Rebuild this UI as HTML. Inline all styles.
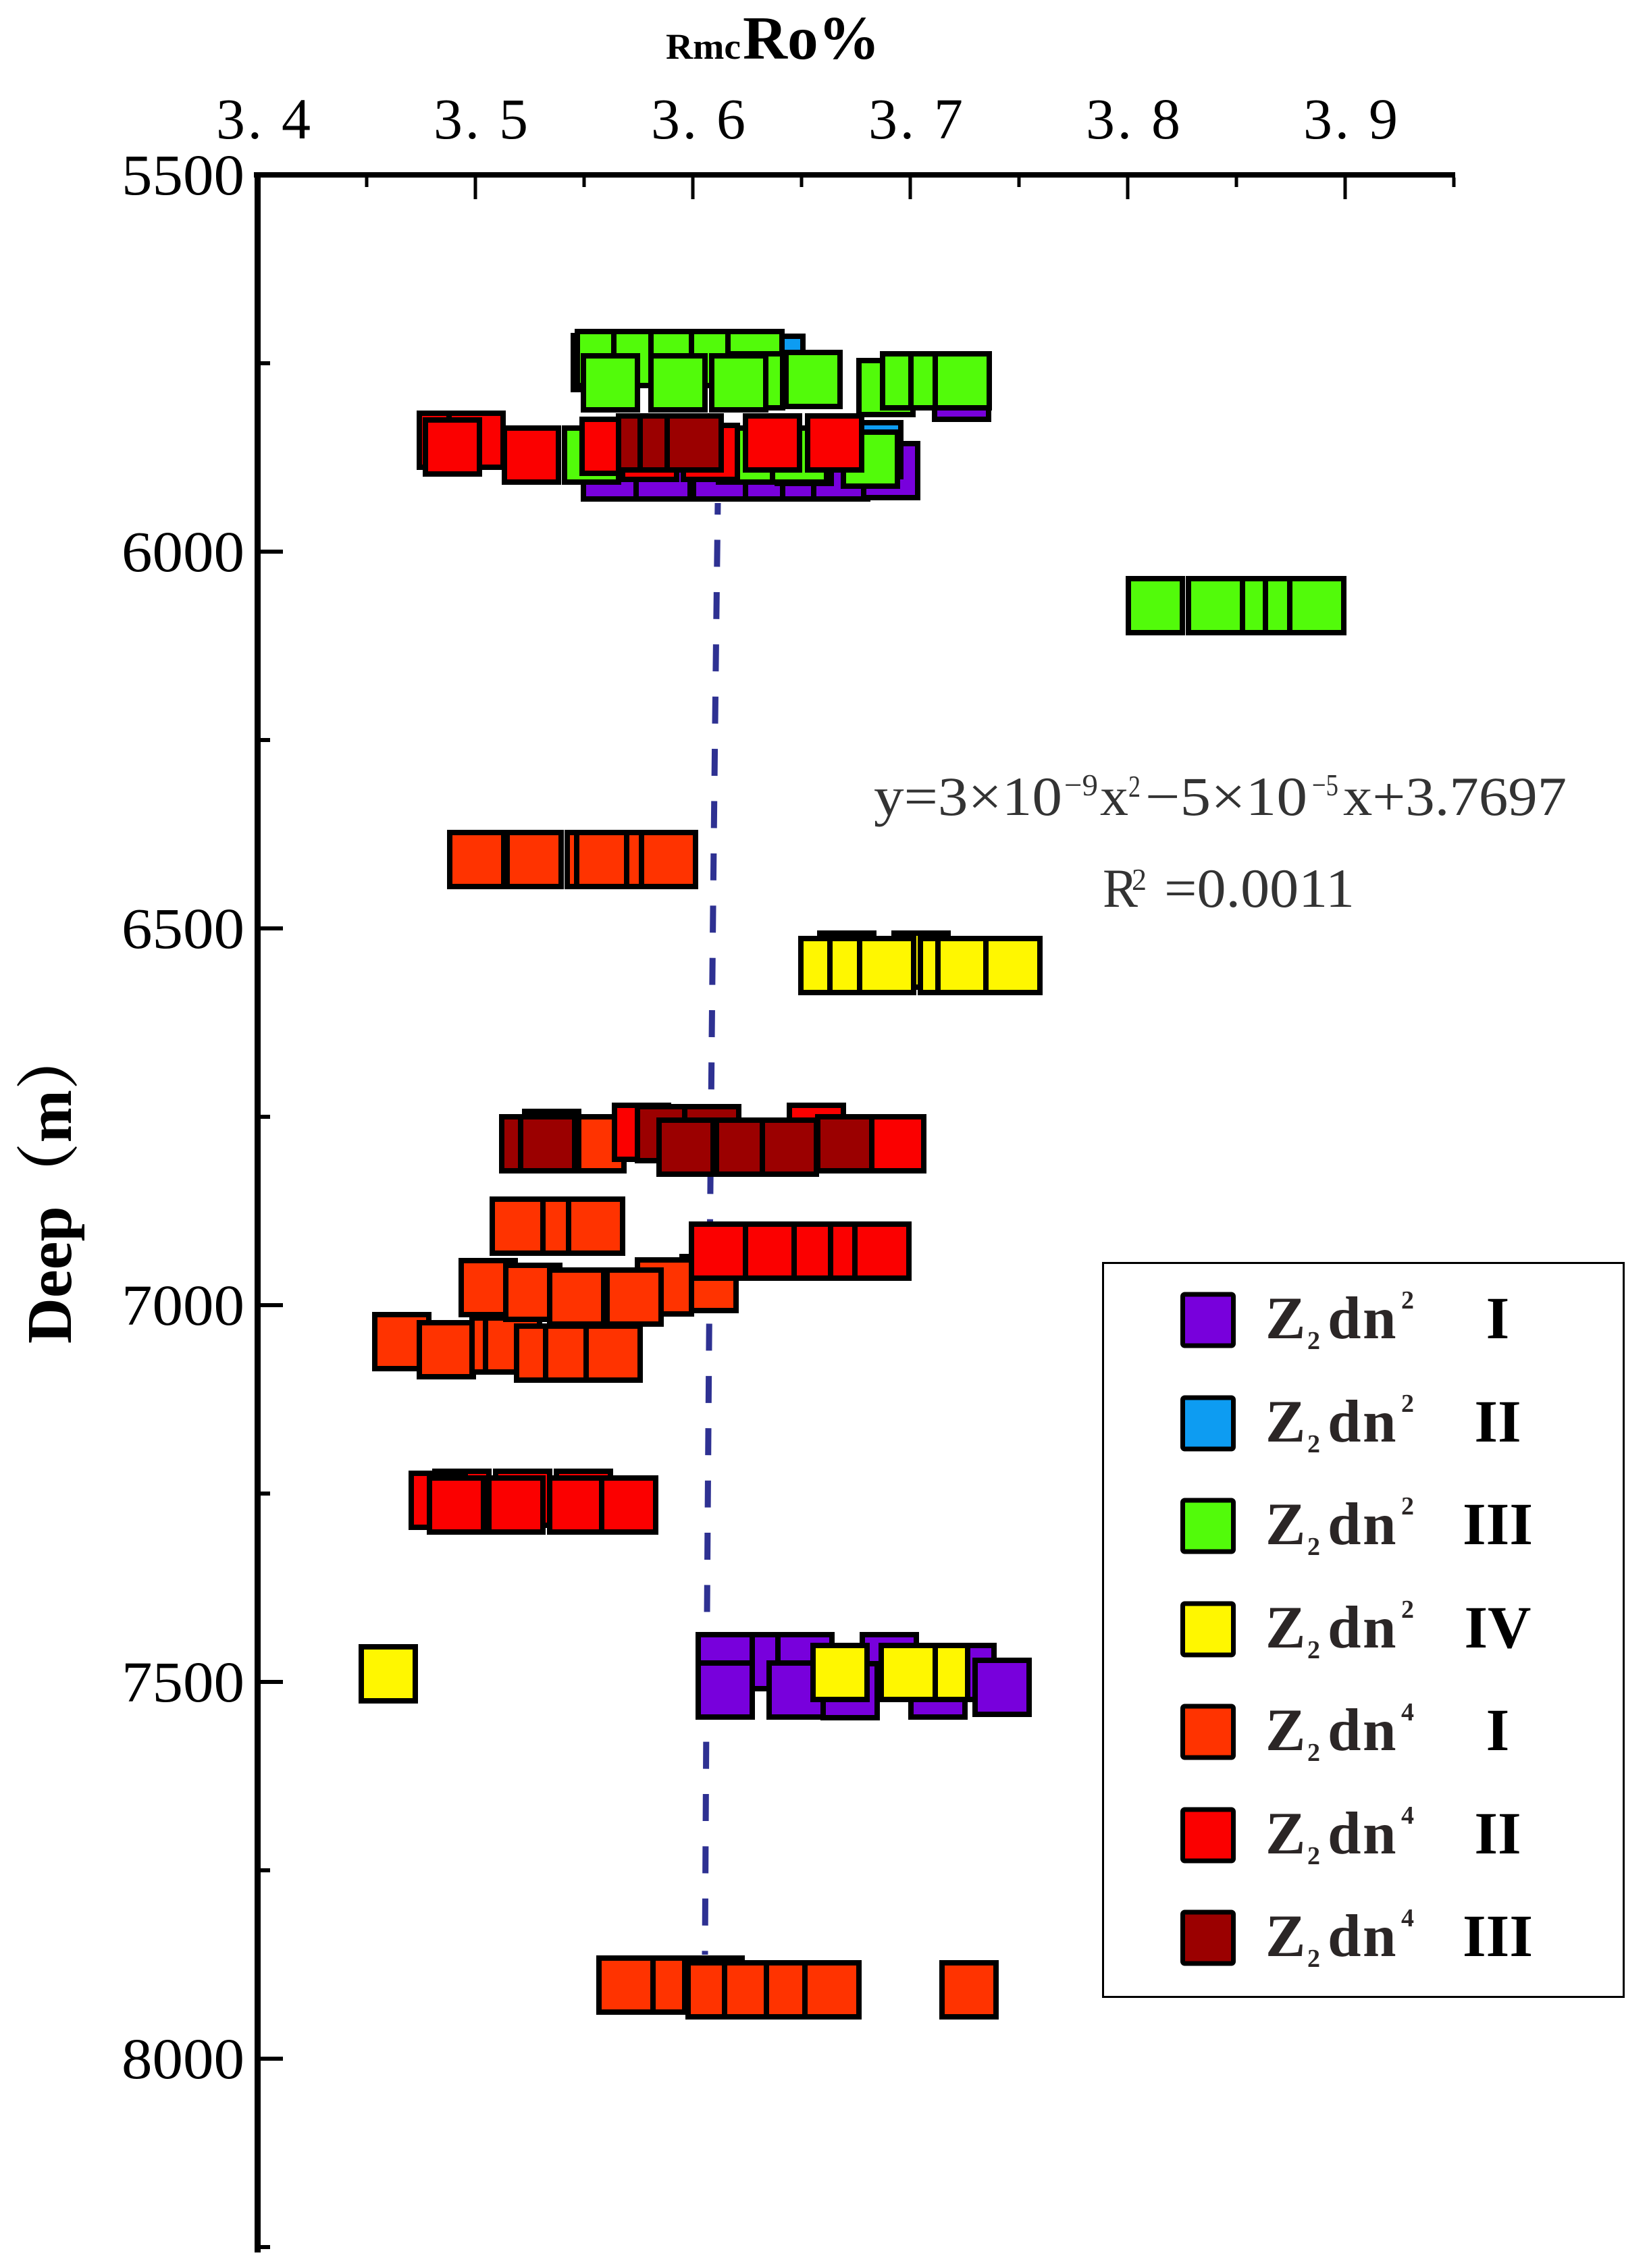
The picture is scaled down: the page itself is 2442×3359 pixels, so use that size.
<!DOCTYPE html>
<html>
<head>
<meta charset="utf-8">
<style>
html,body{margin:0;padding:0;background:#fff;}
svg{display:block;}
.m rect{stroke:#000;stroke-width:8;}
.p{fill:#7800dc}.b{fill:#0d9cf2}.g{fill:#52fb0a}.y{fill:#fff700}.o{fill:#ff3300}.r{fill:#fb0000}.d{fill:#9b0000}
.serif{font-family:"Liberation Serif","Noto Serif CJK SC",serif;}
</style>
</head>
<body>
<svg width="2442" height="3359" viewBox="0 0 2442 3359" xmlns="http://www.w3.org/2000/svg">
<rect width="2442" height="3359" fill="#fff"/>

<!-- Title -->
<g class="serif" font-weight="bold" fill="#000">
<text x="986" y="87" font-size="54" textLength="111" lengthAdjust="spacingAndGlyphs">Rmc</text>
<text x="1100" y="87" font-size="91" textLength="203" lengthAdjust="spacingAndGlyphs">Ro%</text>
</g>

<!-- Top tick labels -->
<g class="serif" font-size="86" fill="#000">
<text x="320" y="205" textLength="140" lengthAdjust="spacing">3. 4</text>
<text x="642" y="205" textLength="140" lengthAdjust="spacing">3. 5</text>
<text x="964" y="205" textLength="140" lengthAdjust="spacing">3. 6</text>
<text x="1286" y="205" textLength="140" lengthAdjust="spacing">3. 7</text>
<text x="1608" y="205" textLength="140" lengthAdjust="spacing">3. 8</text>
<text x="1930" y="205" textLength="140" lengthAdjust="spacing">3. 9</text>
</g>

<!-- Left tick labels -->
<g class="serif" font-size="86" fill="#000" text-anchor="end">
<text x="362" y="288" textLength="182" lengthAdjust="spacingAndGlyphs">5500</text>
<text x="362" y="846" textLength="182" lengthAdjust="spacingAndGlyphs">6000</text>
<text x="362" y="1404" textLength="182" lengthAdjust="spacingAndGlyphs">6500</text>
<text x="362" y="1962" textLength="182" lengthAdjust="spacingAndGlyphs">7000</text>
<text x="362" y="2520" textLength="182" lengthAdjust="spacingAndGlyphs">7500</text>
<text x="362" y="3078" textLength="182" lengthAdjust="spacingAndGlyphs">8000</text>
</g>

<!-- Y axis title -->
<text class="serif" transform="translate(105,1990) rotate(-90)" font-size="94" font-weight="bold" fill="#000">Deep（m）</text>

<!-- Axes -->
<rect x="376" y="255" width="1779" height="8" fill="#000"/>
<rect x="377" y="255" width="9" height="3081" fill="#000"/>
<!-- top ticks -->
<g fill="#000">
<rect x="540.5" y="263" width="5" height="14"/>
<rect x="701.5" y="263" width="5" height="32"/>
<rect x="862.5" y="263" width="5" height="14"/>
<rect x="1023.5" y="263" width="5" height="32"/>
<rect x="1184.5" y="263" width="5" height="14"/>
<rect x="1345.5" y="263" width="5" height="32"/>
<rect x="1506.5" y="263" width="5" height="14"/>
<rect x="1667.5" y="263" width="5" height="32"/>
<rect x="1828.5" y="263" width="5" height="14"/>
<rect x="1989.5" y="263" width="5" height="32"/>
<rect x="2150.5" y="263" width="5" height="14"/>
<!-- left ticks -->
<rect x="386" y="535" width="14" height="6"/>
<rect x="386" y="814" width="33" height="6"/>
<rect x="386" y="1093" width="14" height="6"/>
<rect x="386" y="1372" width="33" height="6"/>
<rect x="386" y="1651" width="14" height="6"/>
<rect x="386" y="1930" width="33" height="6"/>
<rect x="386" y="2209" width="14" height="6"/>
<rect x="386" y="2488" width="33" height="6"/>
<rect x="386" y="2767" width="14" height="6"/>
<rect x="386" y="3046" width="33" height="6"/>
<rect x="386" y="3325" width="14" height="6"/>
</g>

<!-- Trend line -->
<path d="M1063 745 Q1050 1750 1044 2895" fill="none" stroke="#2e3192" stroke-width="9" stroke-dasharray="40 37.4" stroke-dashoffset="22.8"/>

<!-- Equation -->
<g class="serif" fill="#333">
<text x="1294" y="1207" font-size="82" textLength="279" lengthAdjust="spacingAndGlyphs">y=3×10</text>
<text x="1576" y="1178" font-size="46" textLength="50" lengthAdjust="spacingAndGlyphs">−9</text>
<text x="1629" y="1207" font-size="82" textLength="42" lengthAdjust="spacingAndGlyphs">x</text>
<text x="1671" y="1180" font-size="46" textLength="18" lengthAdjust="spacingAndGlyphs">2</text>
<text x="1696" y="1207" font-size="82" textLength="240" lengthAdjust="spacingAndGlyphs">−5×10</text>
<text x="1943" y="1178" font-size="46" textLength="39" lengthAdjust="spacingAndGlyphs">−5</text>
<text x="1989" y="1207" font-size="82" textLength="331" lengthAdjust="spacingAndGlyphs">x+3.7697</text>
<text x="1633" y="1343" font-size="82" textLength="52" lengthAdjust="spacingAndGlyphs">R</text>
<text x="1676" y="1318" font-size="46" textLength="22" lengthAdjust="spacingAndGlyphs">2</text>
<text x="1724" y="1343" font-size="82" textLength="282" lengthAdjust="spacingAndGlyphs">=0.0011</text>
</g>

<!-- Data markers -->
<g class="m">
<!-- Purple Z2dn2 I -->
<rect class="p" x="864" y="659" width="80" height="80"/>
<rect class="p" x="942" y="659" width="80" height="80"/>
<rect class="p" x="1027" y="659" width="80" height="80"/>
<rect class="p" x="1104" y="659" width="80" height="80"/>
<rect class="p" x="1159" y="659" width="80" height="80"/>
<rect class="p" x="1205" y="659" width="80" height="80"/>
<rect class="p" x="1279" y="657" width="80" height="80"/>
<rect class="p" x="1384" y="541" width="80" height="80"/>
<rect class="p" x="1074" y="2421" width="80" height="80"/>
<rect class="p" x="1034" y="2421" width="80" height="80"/>
<rect class="p" x="1152" y="2421" width="80" height="80"/>
<rect class="p" x="1277" y="2421" width="80" height="80"/>
<rect class="p" x="1392" y="2437" width="80" height="80"/>
<rect class="p" x="1444" y="2459" width="80" height="80"/>
<rect class="p" x="1034" y="2463" width="80" height="80"/>
<rect class="p" x="1139" y="2463" width="80" height="80"/>
<rect class="p" x="1219" y="2464" width="80" height="80"/>
<rect class="p" x="1349" y="2463" width="80" height="80"/>

<!-- Blue Z2dn2 II -->
<rect class="b" x="1109" y="498" width="80" height="80"/>
<rect class="b" x="1254" y="626" width="80" height="80"/>
<rect class="b" x="1151" y="636" width="80" height="80"/>

<!-- Green Z2dn2 III -->
<rect class="g" x="849" y="497" width="80" height="80"/>
<rect class="g" x="855" y="491" width="80" height="80"/>
<rect class="g" x="909" y="491" width="80" height="80"/>
<rect class="g" x="964" y="491" width="80" height="80"/>
<rect class="g" x="1024" y="491" width="80" height="80"/>
<rect class="g" x="1078" y="491" width="80" height="80"/>
<rect class="g" x="1079" y="524" width="80" height="80"/>
<rect class="g" x="864" y="527" width="80" height="80"/>
<rect class="g" x="964" y="527" width="80" height="80"/>
<rect class="g" x="1054" y="527" width="80" height="80"/>
<rect class="g" x="1164" y="522" width="80" height="80"/>
<rect class="g" x="1272" y="534" width="80" height="80"/>
<rect class="g" x="1307" y="524" width="80" height="80"/>
<rect class="g" x="1349" y="524" width="80" height="80"/>
<rect class="g" x="1385" y="524" width="80" height="80"/>
<rect class="g" x="836" y="634" width="80" height="80"/>
<rect class="g" x="1064" y="634" width="80" height="80"/>
<rect class="g" x="1144" y="634" width="80" height="80"/>
<rect class="g" x="1249" y="640" width="80" height="80"/>
<rect class="g" x="1671" y="857" width="80" height="80"/>
<rect class="g" x="1804" y="857" width="80" height="80"/>
<rect class="g" x="1760" y="857" width="80" height="80"/>
<rect class="g" x="1874" y="857" width="80" height="80"/>
<rect class="g" x="1910" y="857" width="80" height="80"/>

<!-- Yellow Z2dn2 IV -->
<rect class="y" x="1214" y="1382" width="80" height="80"/>
<rect class="y" x="1324" y="1382" width="80" height="80"/>
<rect class="y" x="1186" y="1390" width="80" height="80"/>
<rect class="y" x="1229" y="1390" width="80" height="80"/>
<rect class="y" x="1273" y="1390" width="80" height="80"/>
<rect class="y" x="1363" y="1390" width="80" height="80"/>
<rect class="y" x="1389" y="1390" width="80" height="80"/>
<rect class="y" x="1460" y="1390" width="80" height="80"/>
<rect class="y" x="535" y="2439" width="80" height="80"/>
<rect class="y" x="1353" y="2437" width="80" height="80"/>
<rect class="y" x="1204" y="2437" width="80" height="80"/>
<rect class="y" x="1305" y="2437" width="80" height="80"/>

<!-- Orange Z2dn4 I -->
<rect class="o" x="666" y="1233" width="80" height="80"/>
<rect class="o" x="751" y="1233" width="80" height="80"/>
<rect class="o" x="840" y="1233" width="80" height="80"/>
<rect class="o" x="854" y="1233" width="80" height="80"/>
<rect class="o" x="928" y="1233" width="80" height="80"/>
<rect class="o" x="950" y="1233" width="80" height="80"/>
<rect class="o" x="844" y="1654" width="80" height="80"/>
<rect class="o" x="729" y="1776" width="80" height="80"/>
<rect class="o" x="804" y="1776" width="80" height="80"/>
<rect class="o" x="842" y="1776" width="80" height="80"/>
<rect class="o" x="555" y="1947" width="80" height="80"/>
<rect class="o" x="621" y="1959" width="80" height="80"/>
<rect class="o" x="699" y="1952" width="80" height="80"/>
<rect class="o" x="719" y="1952" width="80" height="80"/>
<rect class="o" x="765" y="1964" width="80" height="80"/>
<rect class="o" x="808" y="1964" width="80" height="80"/>
<rect class="o" x="868" y="1964" width="80" height="80"/>
<rect class="o" x="1010" y="1861" width="80" height="80"/>
<rect class="o" x="944" y="1866" width="80" height="80"/>
<rect class="o" x="683" y="1867" width="80" height="80"/>
<rect class="o" x="749" y="1874" width="80" height="80"/>
<rect class="o" x="814" y="1881" width="80" height="80"/>
<rect class="o" x="899" y="1881" width="80" height="80"/>
<rect class="o" x="934" y="2900" width="80" height="80"/>
<rect class="o" x="1019" y="2900" width="80" height="80"/>
<rect class="o" x="887" y="2900" width="80" height="80"/>
<rect class="o" x="1019" y="2907" width="80" height="80"/>
<rect class="o" x="1073" y="2907" width="80" height="80"/>
<rect class="o" x="1135" y="2907" width="80" height="80"/>
<rect class="o" x="1192" y="2907" width="80" height="80"/>
<rect class="o" x="1395" y="2907" width="80" height="80"/>

<!-- Red Z2dn4 II -->
<rect class="r" x="621" y="612" width="80" height="80"/>
<rect class="r" x="665" y="612" width="80" height="80"/>
<rect class="r" x="630" y="622" width="80" height="80"/>
<rect class="r" x="747" y="634" width="80" height="80"/>
<rect class="r" x="862" y="621" width="80" height="80"/>
<rect class="r" x="922" y="630" width="80" height="80"/>
<rect class="r" x="1012" y="630" width="80" height="80"/>
<rect class="r" x="1104" y="616" width="80" height="80"/>
<rect class="r" x="1196" y="616" width="80" height="80"/>
<rect class="r" x="910" y="1637" width="80" height="80"/>
<rect class="r" x="1169" y="1637" width="80" height="80"/>
<rect class="r" x="1288" y="1654" width="80" height="80"/>
<rect class="r" x="1024" y="1813" width="80" height="80"/>
<rect class="r" x="1104" y="1813" width="80" height="80"/>
<rect class="r" x="1176" y="1813" width="80" height="80"/>
<rect class="r" x="1230" y="1813" width="80" height="80"/>
<rect class="r" x="1266" y="1813" width="80" height="80"/>
<rect class="r" x="644" y="2179" width="80" height="80"/>
<rect class="r" x="734" y="2179" width="80" height="80"/>
<rect class="r" x="824" y="2179" width="80" height="80"/>
<rect class="r" x="609" y="2182" width="80" height="80"/>
<rect class="r" x="636" y="2189" width="80" height="80"/>
<rect class="r" x="724" y="2189" width="80" height="80"/>
<rect class="r" x="814" y="2189" width="80" height="80"/>
<rect class="r" x="891" y="2189" width="80" height="80"/>

<!-- Dark red Z2dn4 III -->
<rect class="d" x="916" y="616" width="80" height="80"/>
<rect class="d" x="948" y="616" width="80" height="80"/>
<rect class="d" x="988" y="616" width="80" height="80"/>
<rect class="d" x="777" y="1646" width="80" height="80"/>
<rect class="d" x="944" y="1639" width="80" height="80"/>
<rect class="d" x="1014" y="1639" width="80" height="80"/>
<rect class="d" x="743" y="1654" width="80" height="80"/>
<rect class="d" x="771" y="1654" width="80" height="80"/>
<rect class="d" x="976" y="1659" width="80" height="80"/>
<rect class="d" x="1061" y="1659" width="80" height="80"/>
<rect class="d" x="1129" y="1659" width="80" height="80"/>
<rect class="d" x="1211" y="1654" width="80" height="80"/>
</g>

<!-- Legend -->
<rect x="1633.5" y="1870.5" width="771" height="1087" fill="#fff" stroke="#000" stroke-width="3"/>
<g stroke="#000" stroke-width="7">
<rect class="p" x="1751.5" y="1917" width="75" height="76" rx="3"/>
<rect class="b" x="1751.5" y="2070" width="75" height="76" rx="3"/>
<rect class="g" x="1751.5" y="2222" width="75" height="76" rx="3"/>
<rect class="y" x="1751.5" y="2375" width="75" height="76" rx="3"/>
<rect class="o" x="1751.5" y="2527" width="75" height="76" rx="3"/>
<rect class="r" x="1751.5" y="2680" width="75" height="76" rx="3"/>
<rect class="d" x="1751.5" y="2832" width="75" height="76" rx="3"/>
</g>
<g class="serif" font-weight="bold">
<!-- row 1 c=1955 -->
<g fill="#2b2626">
<text x="1874" y="1982" font-size="89">Z</text><text x="1936" y="1998" font-size="38">2</text><text x="1966" y="1982" font-size="89">d</text><text x="2018" y="1982" font-size="89">n</text><text x="2075" y="1938" font-size="38">2</text>
<text x="1874" y="2135" font-size="89">Z</text><text x="1936" y="2151" font-size="38">2</text><text x="1966" y="2135" font-size="89">d</text><text x="2018" y="2135" font-size="89">n</text><text x="2075" y="2091" font-size="38">2</text>
<text x="1874" y="2287" font-size="89">Z</text><text x="1936" y="2303" font-size="38">2</text><text x="1966" y="2287" font-size="89">d</text><text x="2018" y="2287" font-size="89">n</text><text x="2075" y="2243" font-size="38">2</text>
<text x="1874" y="2440" font-size="89">Z</text><text x="1936" y="2456" font-size="38">2</text><text x="1966" y="2440" font-size="89">d</text><text x="2018" y="2440" font-size="89">n</text><text x="2075" y="2396" font-size="38">2</text>
<text x="1874" y="2592" font-size="89">Z</text><text x="1936" y="2608" font-size="38">2</text><text x="1966" y="2592" font-size="89">d</text><text x="2018" y="2592" font-size="89">n</text><text x="2075" y="2548" font-size="38">4</text>
<text x="1874" y="2745" font-size="89">Z</text><text x="1936" y="2761" font-size="38">2</text><text x="1966" y="2745" font-size="89">d</text><text x="2018" y="2745" font-size="89">n</text><text x="2075" y="2701" font-size="38">4</text>
<text x="1874" y="2897" font-size="89">Z</text><text x="1936" y="2913" font-size="38">2</text><text x="1966" y="2897" font-size="89">d</text><text x="2018" y="2897" font-size="89">n</text><text x="2075" y="2853" font-size="38">4</text>
</g>
<g fill="#000" font-size="89" text-anchor="middle">
<text x="2218" y="1982">I</text>
<text x="2218" y="2135">II</text>
<text x="2218" y="2287">III</text>
<text x="2218" y="2440">IV</text>
<text x="2218" y="2592">I</text>
<text x="2218" y="2745">II</text>
<text x="2218" y="2897">III</text>
</g>
</g>
</svg>
</body>
</html>
